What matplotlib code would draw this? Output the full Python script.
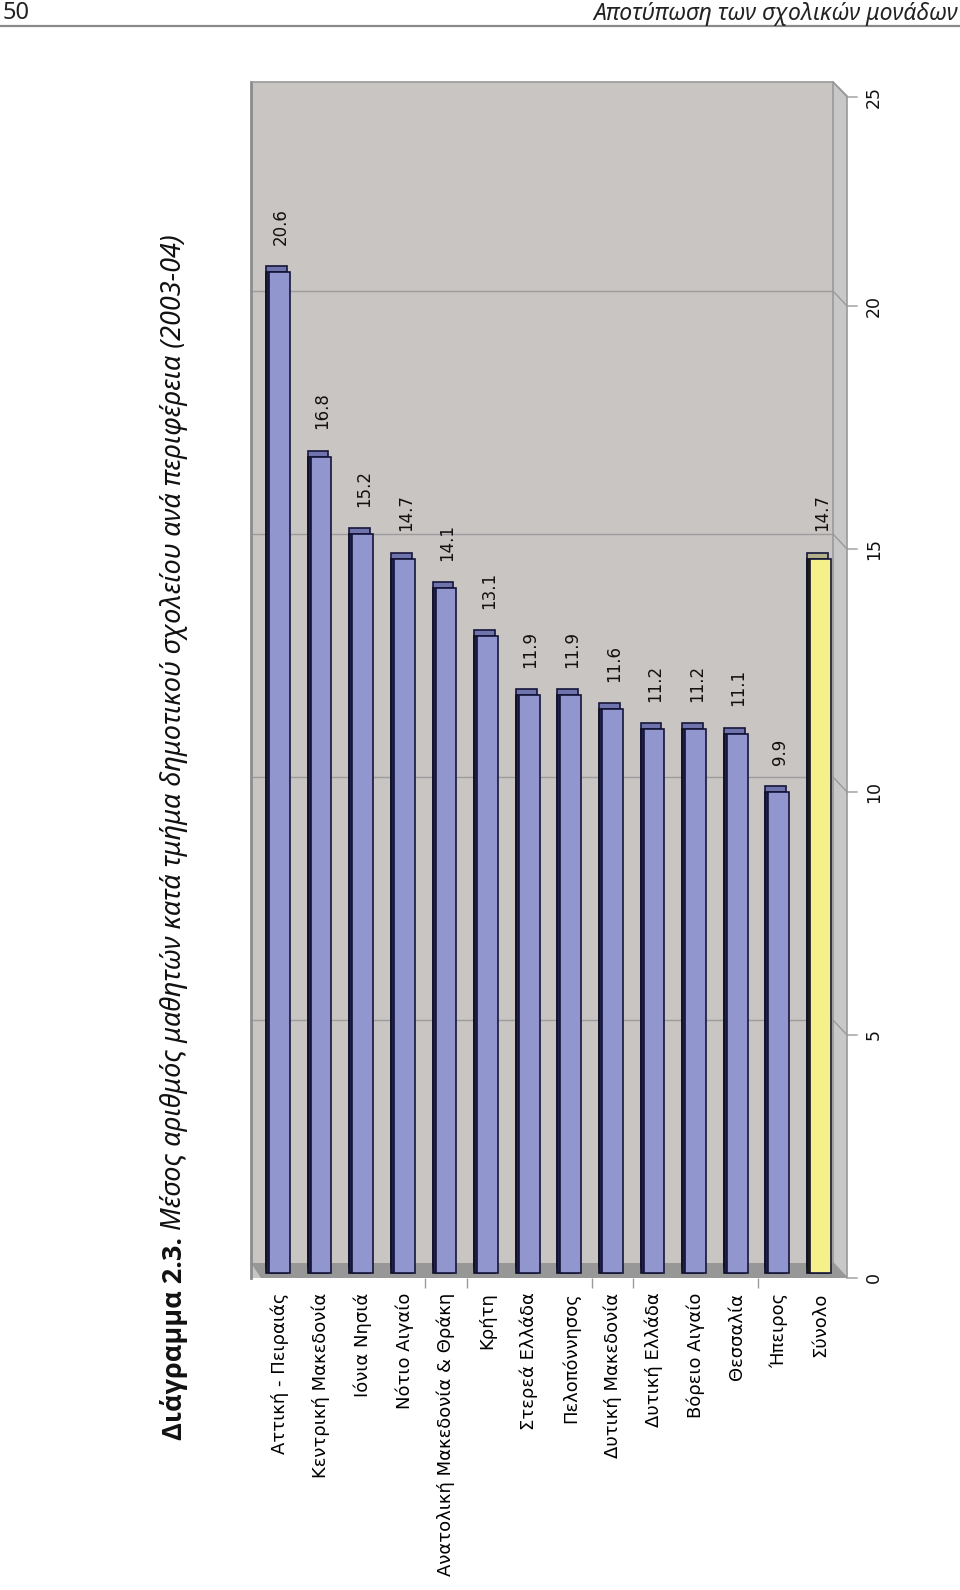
import matplotlib
matplotlib.use("Agg")
import matplotlib.pyplot as plt
import matplotlib.patches as mpatches
import matplotlib.transforms as mtransforms
from matplotlib.lines import Line2D

# data
regions = ["Αττική - Πειραιάς", "Κεντρική Μακεδονία", "Ιόνια Νησιά", "Νότιο Αιγαίο",
           "Ανατολική Μακεδονία & Θράκη", "Κρήτη", "Στερεά Ελλάδα", "Πελοπόννησος",
           "Δυτική Μακεδονία", "Δυτική Ελλάδα", "Βόρειο Αιγαίο", "Θεσσαλία",
           "Ήπειρος", "Σύνολο"]
values = [20.6, 16.8, 15.2, 14.7, 14.1, 13.1, 11.9, 11.9, 11.6, 11.2, 11.2, 11.1, 9.9, 14.7]
value_ticks = [0, 5, 10, 15, 20, 25]
grid_values = [5, 10, 15, 20]

W, H = 960, 1590
fig = plt.figure(figsize=(W / 100, H / 100), dpi=100)
fig.patch.set_facecolor("white")

def fx(x):
    return x / W

def fy(y):
    return 1 - y / H

# page header
fig.text(fx(3), fy(1), "50", ha="left", va="top", fontsize=17, family="Noto Sans", color="#222222")
fig.text(fx(958), fy(2), "Αποτύπωση των σχολικών μονάδων", ha="right", va="top",
         fontsize=16.5, family="Noto Sans", style="italic", color="#222222")
fig.add_artist(Line2D([0, 1], [fy(26), fy(26)], color="#8a8a8a", lw=1.6))

# chart area (wall = axes)
ax = fig.add_axes([fx(251), fy(1278), 582 / W, 1196 / H])
ax.set_facecolor("#c9c5c3")
ax.set_xlim(-0.685, 13.305)
ax.set_ylim(-0.103, 24.506)

for s in ["bottom", "right"]:
    ax.spines[s].set_visible(False)
ax.spines["left"].set_color("#8c8c8c")
ax.spines["left"].set_linewidth(2)
ax.spines["top"].set_color("#9a9a9a")
ax.spines["top"].set_linewidth(1.2)

# floor and right side strip (3D look)
dx = 14 / 582
ftop = 15 / 1196
floor = mpatches.Polygon([(0, ftop), (1, ftop), (1 + dx, 0), (10 / 582, 0)], closed=True,
                         transform=ax.transAxes, facecolor="#979797", edgecolor="none",
                         clip_on=False, zorder=1)
ax.add_patch(floor)
side = mpatches.Polygon([(1, ftop), (1, 1), (1 + dx, 1 - 14 / 1196), (1 + dx, 0)], closed=True,
                        transform=ax.transAxes, facecolor="#c8c8c8", edgecolor="#9a9a9a",
                        lw=1.2, clip_on=False, zorder=1)
ax.add_patch(side)

# gridlines on the back wall (a bit above the bar base)
back = ax.get_yaxis_transform() + mtransforms.ScaledTranslation(0, 10 / 100, fig.dpi_scale_trans)
for g in grid_values:
    ax.plot([0, 1], [g, g], color="#9c9c9c", lw=1, transform=back, zorder=1.5)

# bars: back cap, dark side, front face
x = list(range(len(regions)))
front_cols = ["#9296cf"] * (len(regions) - 1) + ["#f6f08a"]
cap_cols = ["#6f74ad"] * (len(regions) - 1) + ["#b3b189"]
side_cols = ["#202050"] * (len(regions) - 1) + ["#1c1c10"]
bw = 0.5
cap_tr = mtransforms.offset_copy(ax.transData, fig=fig, x=-3, y=6, units="dots")
side_tr = mtransforms.offset_copy(ax.transData, fig=fig, x=-3, y=0, units="dots")
ax.bar(x, values, width=bw, color=cap_cols, edgecolor="#15153a", lw=1.2, transform=cap_tr, zorder=3)
ax.bar(x, values, width=bw, color=side_cols, edgecolor="#101020", lw=1.2, transform=side_tr, zorder=4)
ax.bar(x, values, width=bw, color=front_cols, edgecolor="#15153a", lw=1.2, zorder=5)

for xi, v in zip(x, values):
    ax.annotate(f"{v:.1f}", (xi, v), xytext=(1, 19.5), textcoords="offset points",
                rotation=90, ha="center", va="bottom", fontsize=12, color="#111111",
                family="DejaVu Sans")

# category labels
ax.set_xticks(x)
ax.set_xticklabels(regions, rotation=90, ha="center", va="top", fontsize=13, color="#000000")
ax.tick_params(axis="x", which="major", length=0, pad=10.5)
ax.set_xticks([3.5, 4.5, 7.5, 8.5, 11.5], minor=True)
ax.tick_params(axis="x", which="minor", length=7, color="#9a9a9a", width=1)
ax.set_yticks([])

# value axis on the right with perspective ticks
fig.canvas.draw()
xr = ax.transAxes.transform((1, 0))[0]
ident = mtransforms.IdentityTransform()
for t in value_ticks:
    if t <= ax.get_ylim()[1]:
        yb = ax.transData.transform((0, t))[1] + 10
    else:
        yb = ax.transAxes.transform((0, 1))[1]
    yf = yb - 15
    fig.add_artist(Line2D([xr, xr + 14, xr + 24], [yb, yf, yf], color="#9a9a9a", lw=1,
                          transform=ident))
    fig.text(xr + 41, yf, str(t), rotation=90, ha="center", va="center", fontsize=12.5,
             color="#111111", transform=ident)

# title, rotated: bold part then italic part
tb = fig.text(fx(174), fy(1440), "Διάγραμμα 2.3.", rotation=90, ha="center", va="bottom",
              fontsize=19.5, fontweight="bold", family="Open Sans", color="#111111")
fig.canvas.draw()
bb = tb.get_window_extent()
fig.text(fx(174), (bb.y1 + 7) / H,
         "Μέσος αριθμός μαθητών κατά τμήμα δημοτικού σχολείου ανά περιφέρεια (2003-04)",
         rotation=90, ha="center", va="bottom", fontsize=19.5, style="italic",
         family="Noto Sans", color="#111111")

fig.savefig("out.png", dpi=100)
